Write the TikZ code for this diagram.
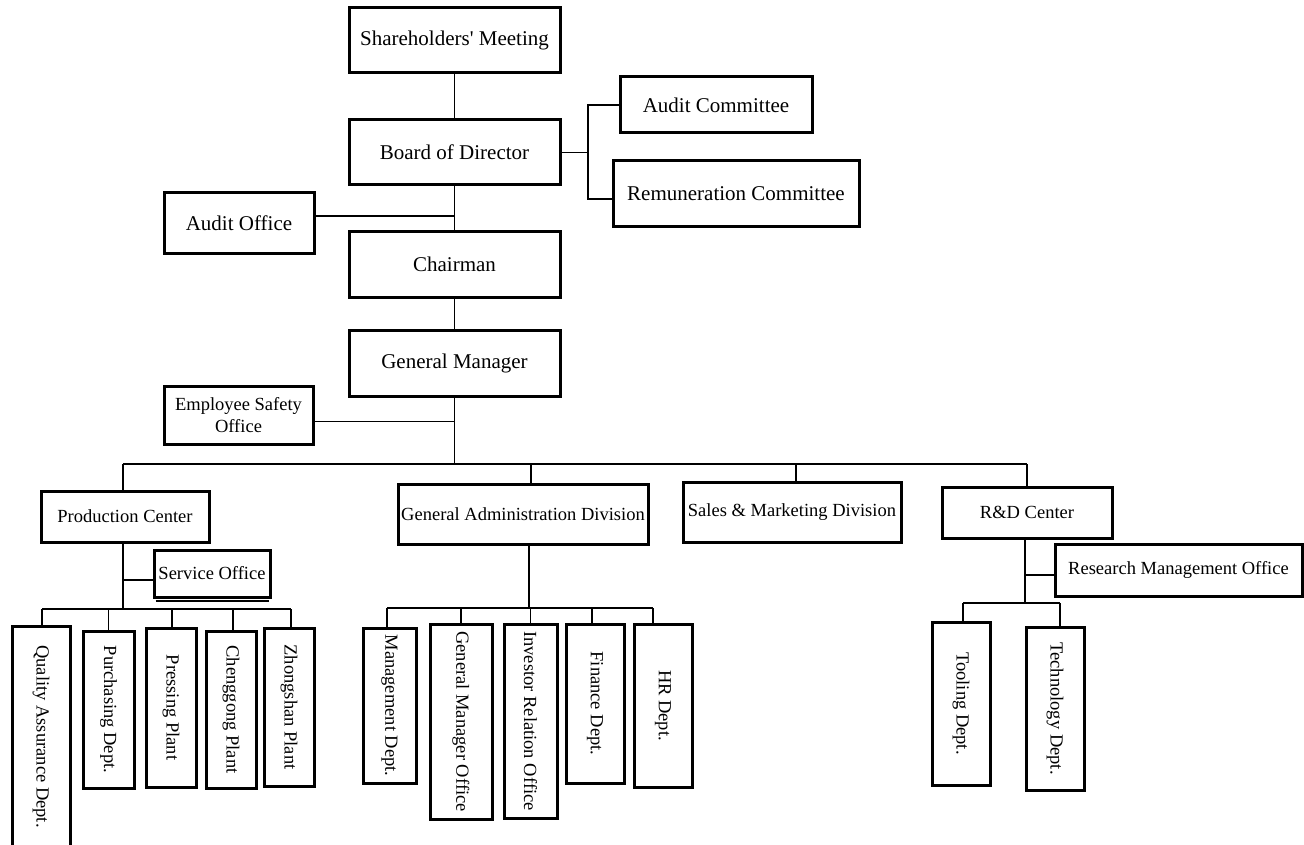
\documentclass[tikz,border=0pt]{standalone}
\usepackage{fontspec}
\setmainfont{Liberation Serif}
\newcommand\BX[7]{\node[box,#7,minimum width={#4-#2},minimum height={#5-#3}] (#1) at ({(#2+#4)/2},{(#3+#5)/2}) {#6};}
\newcommand\RX[6]{\node[box,small,rotate=-90,minimum width={#5-#3},minimum height={#4-#2}] (#1) at ({(#2+#4)/2},{(#3+#5)/2}) {#6};}
\begin{document}
\begin{tikzpicture}[x=1pt,y=-1pt,
  box/.style={draw, line width=3pt, inner sep=0pt, align=center},
  big/.style={font=\fontsize{21}{24}\selectfont},
  small/.style={font=\fontsize{18.5}{21.5}\selectfont},
  conn/.style={line width=1.5pt}]
\fill[white] (0,0) rectangle (1304,845);
\useasboundingbox (0,0) rectangle (1304,845);
% top level
\BX{SM}{349}{8}{560}{73}{Shareholders\textquotesingle{} Meeting}{big}
\BX{BD}{349}{120}{560}{185}{Board of Director}{big}
\BX{CH}{349}{232}{560}{297}{Chairman}{big}
\BX{GM}{349}{330}{560}{396}{General Manager}{big}
\BX{AO}{164}{193}{314}{254}{Audit Office}{big}
\BX{AC}{620}{77}{812}{133}{Audit Committee}{big}
\BX{RC}{613}{161}{859}{227}{Remuneration Committee}{big}
\BX{ESO}{164}{386}{313}{444}{Employee Safety\\Office}{small}
% divisions
\BX{PC}{41}{491}{209}{542}{Production Center}{small}
\BX{GAD}{398}{484}{648}{544}{General Administration Division}{small}
\BX{SMD}{683}{482}{901}{542}{Sales \& Marketing Division}{small}
\BX{RD}{942}{487}{1112}{538}{R\&D Center}{small}
\BX{SO}{154}{550}{270}{597}{Service Office}{small}
\BX{RMO}{1055}{544}{1302}{596}{Research Management Office}{small}
% departments
\RX{QA}{12}{626}{70}{847}{Quality Assurance Dept.}
\RX{PU}{83}{631}{134}{788}{Purchasing Dept.}
\RX{PR}{146}{628}{196}{787}{Pressing Plant}
\RX{CG}{206}{631}{256}{788}{Chenggong Plant}
\RX{ZS}{264}{628}{314}{786}{Zhongshan Plant}
\RX{MD}{363}{628}{416}{783}{Management Dept.}
\RX{GMO}{430}{624}{492}{819}{General Manager Office}
\RX{IRO}{504}{624}{557}{818}{Investor Relation Office}
\RX{FD}{566}{624}{624}{783}{Finance Dept.}
\RX{HR}{634}{624}{692}{787}{HR Dept.}
\RX{TL}{932}{622}{990}{785}{Tooling Dept.}
\RX{TE}{1026}{627}{1084}{790}{Technology Dept.}
% service office shadow
\draw[line width=1.4pt] ([xshift=3pt,yshift=-2.6pt]SO.south west) -- ([xshift=-3pt,yshift=-2.6pt]SO.south east);
% connectors top
\draw[conn] (SM) -- (BD);
\draw[conn] (BD) -- (CH);
\draw[conn] (CH) -- (GM);
\draw[conn] ([yshift=7.5pt]AO.east) -- ([yshift=7.5pt]AO.east -| BD.south);
\coordinate (cspine) at (588,153);
\draw[conn] (BD.east) -- (BD.east -| cspine);
\draw[conn] (AC.west) -- (AC.west -| cspine) -- ([yshift=-5pt]RC.west -| cspine) -- ([yshift=-5pt]RC.west);
% main bus
\coordinate (bus) at (0,464);
\draw[conn] (GM.south) -- (GM.south |- bus);
\draw[conn] ([yshift=-6.5pt]ESO.east) -- ([yshift=-6.5pt]ESO.east -| GM.south);
\coordinate (pcx) at ([xshift=-2pt]PC.north);
\coordinate (gadx) at ([xshift=8pt]GAD.north);
\coordinate (smdx) at ([xshift=4pt]SMD.north);
\draw[conn] (pcx |- bus) -- (RD.north |- bus);
\draw[conn] (pcx) -- (pcx |- bus);
\draw[conn] (gadx) -- (gadx |- bus);
\draw[conn] (smdx) -- (smdx |- bus);
\draw[conn] (RD.north) -- (RD.north |- bus);
% production center subtree
\coordinate (pcbus) at (0,609);
\coordinate (pcs) at ([xshift=-2pt]PC.south);
\draw[conn] (pcs) -- (pcs |- pcbus);
\draw[conn] ([yshift=-6.5pt]SO.west) -- ([yshift=-6.5pt]SO.west -| pcs);
\draw[conn] ([xshift=1pt]QA.west |- pcbus) -- ([xshift=2pt]ZS.west |- pcbus);
\foreach \n/\s in {QA/1,PU/0,PR/1,CG/2,ZS/2}
  \draw[conn] ([xshift=\s pt]\n.west) -- ([xshift=\s pt]\n.west |- pcbus);
% general administration subtree
\coordinate (gbus) at (0,608);
\coordinate (gs) at ([xshift=6pt]GAD.south);
\draw[conn] (gs) -- (gs |- gbus);
\draw[conn] ([xshift=-2.5pt]MD.west |- gbus) -- ([xshift=-10pt]HR.west |- gbus);
\foreach \n/\s in {MD/-2.5,GMO/0,IRO/0,FD/-3,HR/-10}
  \draw[conn] ([xshift=\s pt]\n.west) -- ([xshift=\s pt]\n.west |- gbus);
% R&D subtree
\coordinate (rbus) at (0,603);
\coordinate (rs) at ([xshift=-2pt]RD.south);
\draw[conn] (rs) -- (rs |- rbus);
\draw[conn] ([yshift=-5pt]RMO.west) -- ([yshift=-5pt]RMO.west -| rs);
\draw[conn] ([xshift=2pt]TL.west |- rbus) -- ([xshift=5pt]TE.west |- rbus);
\foreach \n/\s in {TL/2,TE/5}
  \draw[conn] ([xshift=\s pt]\n.west) -- ([xshift=\s pt]\n.west |- rbus);
\end{tikzpicture}
\end{document}
